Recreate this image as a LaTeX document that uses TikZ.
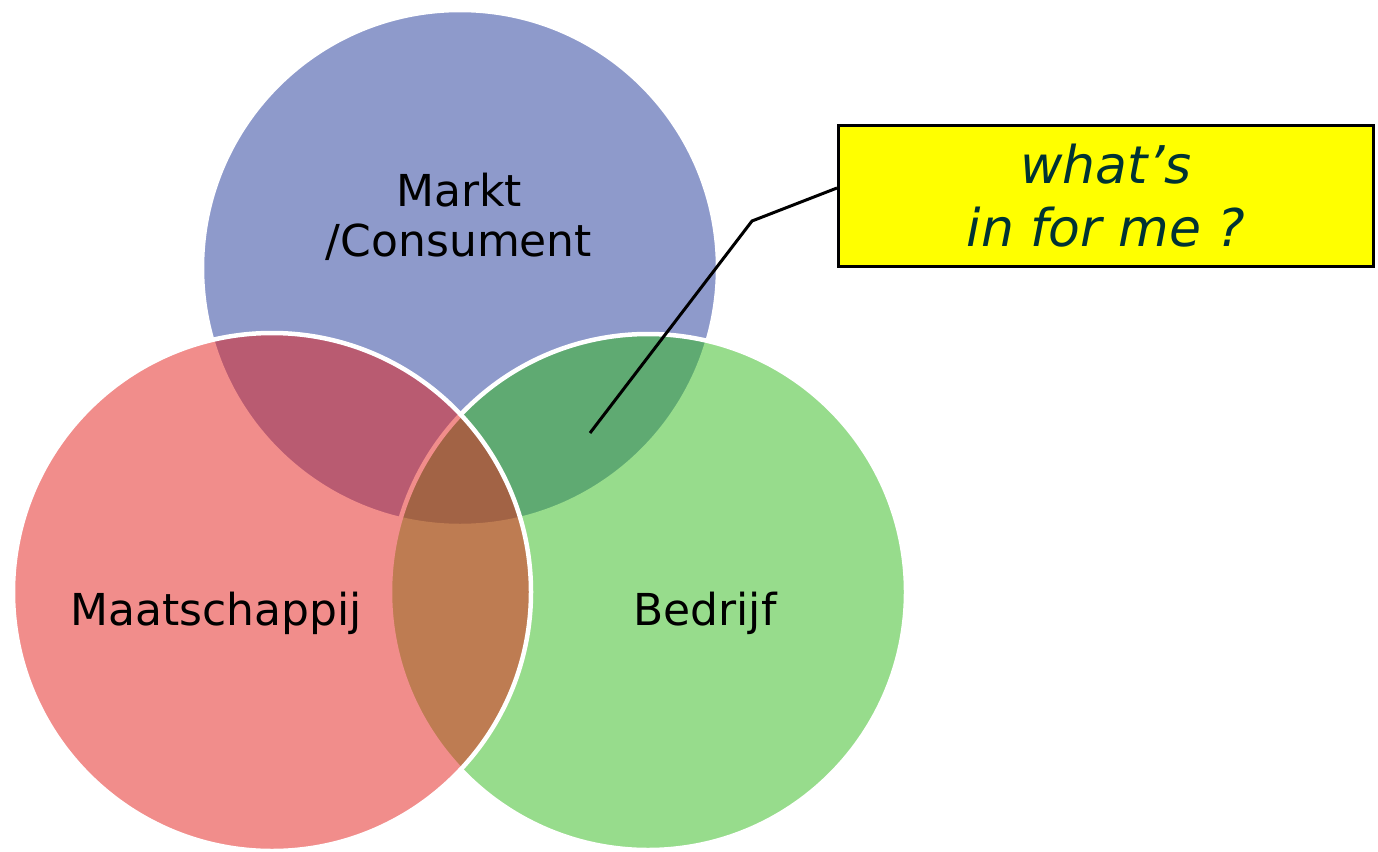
\documentclass[tikz,border=0pt]{standalone}
\usepackage{fontspec}
\setmainfont{DejaVu Sans}
\definecolor{marktblue}{RGB}{31,55,153}
\definecolor{bedrijfgreen}{RGB}{49,187,27}
\definecolor{maatred}{RGB}{229,29,25}
\definecolor{calloutyellow}{RGB}{255,255,0}
\definecolor{callouttext}{RGB}{0,51,51}
\begin{document}
\begin{tikzpicture}[x=1pt,y=-1pt,
  venn/.style={draw=white, line width=4.5pt, fill opacity=0.5},
  lbl/.style={font=\fontsize{44}{50}\selectfont, text=black, align=center, inner sep=0pt},
  callout/.style={draw=black, line width=3pt, fill=calloutyellow, minimum width=535pt, minimum height=141pt, inner sep=0pt, align=center, text=callouttext, font=\fontsize{52}{63}\selectfont\itshape},
  link/.style={draw=black, line width=3pt}]
\path[use as bounding box, fill=white] (0,0) rectangle (1378,851);
% circles: drawn in order top, right, left
\path[venn, fill=marktblue] (460,268) circle[radius=258pt];
\path[venn, fill=bedrijfgreen] (648,592) circle[radius=258pt];
\path[venn, fill=maatred] (272,592) circle[radius=259pt];
% labels
\node[lbl, anchor=north] (markt) at (459,172.6) {Markt\\/Consument};
\node[lbl, anchor=base] (maat) at (216,625) {Maatschappij};
\node[lbl, anchor=base] (bedrijf) at (705,625) {Bedrijf};
% callout
\node[callout] (callout) at (1106,196) {what’s\\in for me ?};
\coordinate (bend) at (752,221);
\coordinate (tip) at (590,433);
\draw[link] ([yshift=8pt]callout.west) -- (bend) -- (tip);
\end{tikzpicture}
\end{document}
